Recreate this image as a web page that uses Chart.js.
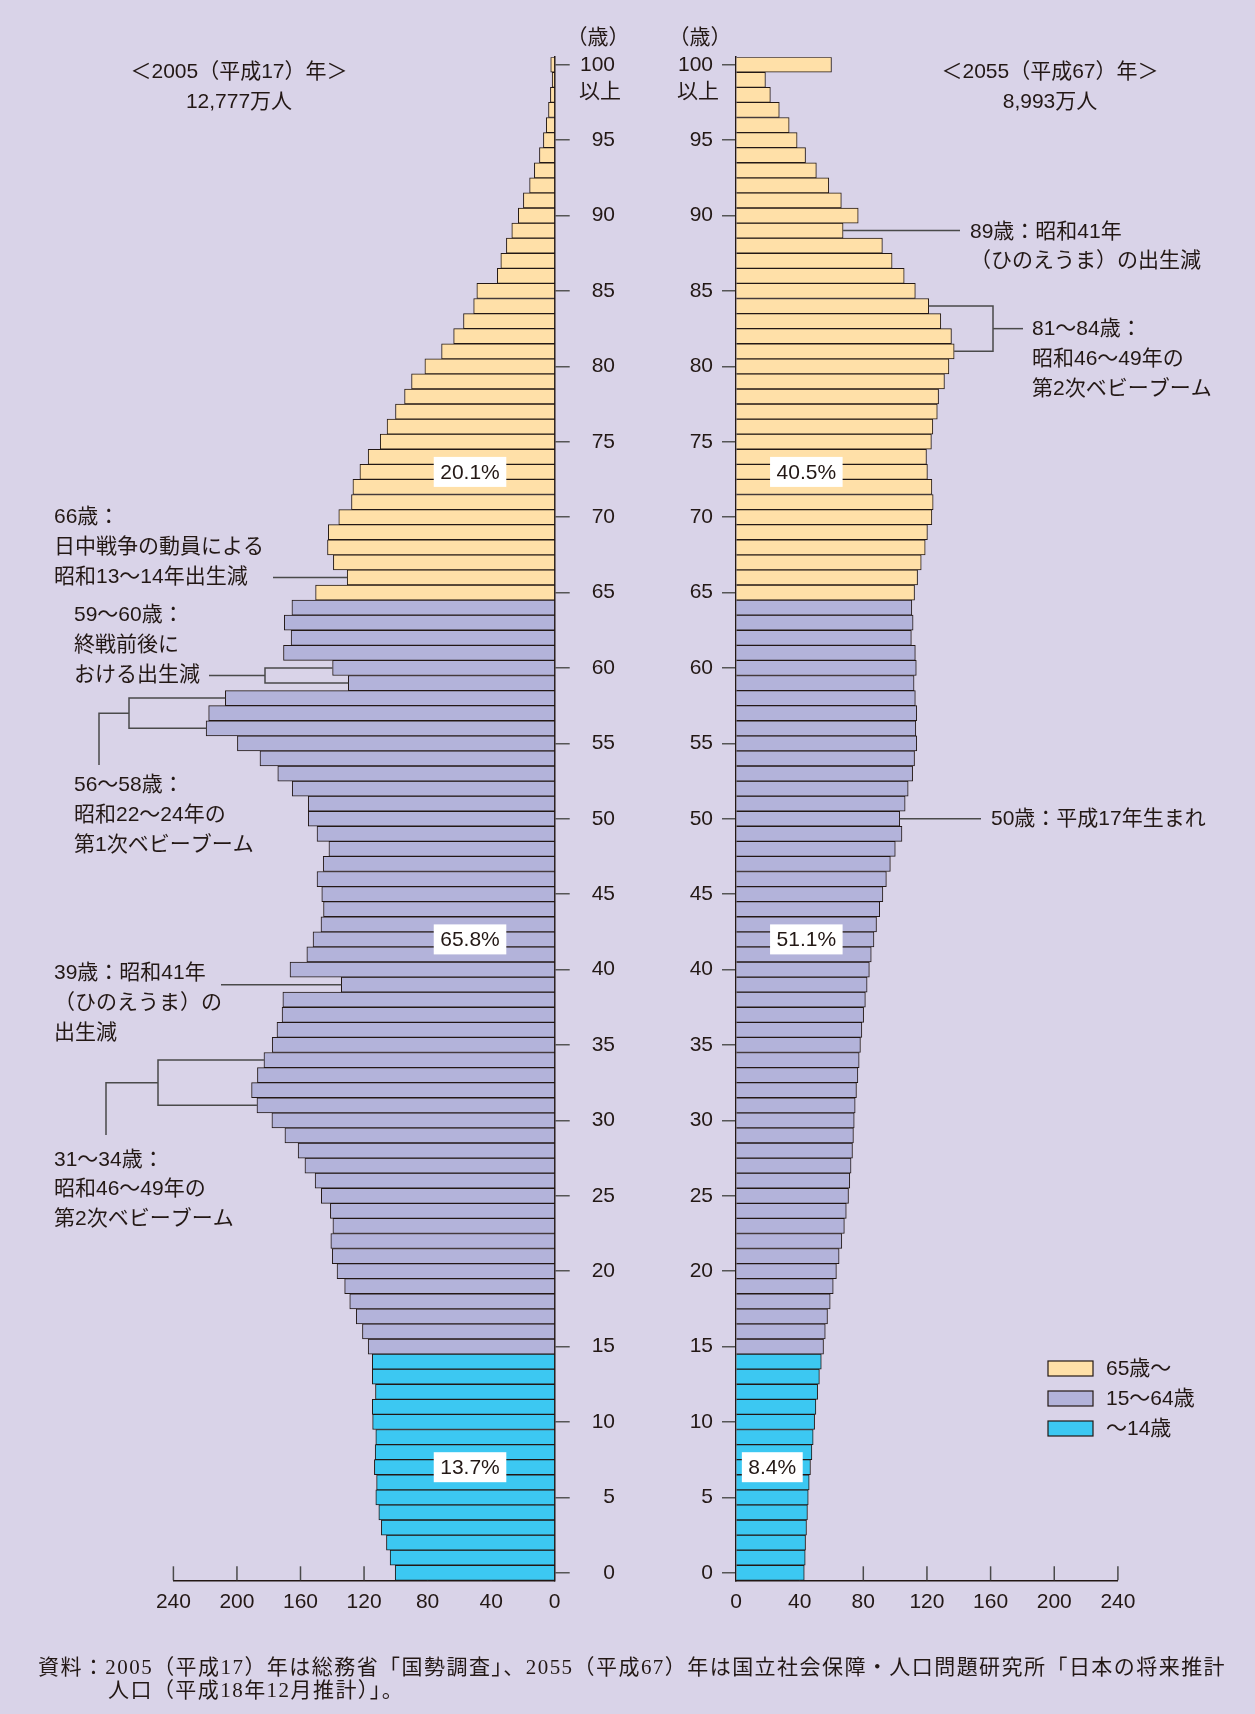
<!DOCTYPE html>
<html>
<head>
<meta charset="utf-8">
<script src="https://cdn.jsdelivr.net/npm/chart.js@4.4.1/dist/chart.umd.min.js"></script>
<style>
  html, body { margin: 0; padding: 0; background: #d9d3e8; }
  #wrap { position: relative; width: 1255px; height: 1714px; background: #d9d3e8; overflow: hidden; }
  #wrap canvas { position: absolute; left: 0; top: 0; }
  .note { position: absolute; white-space: nowrap; color: #231815;
          font: 21px "Liberation Serif", "Noto Sans CJK JP", serif; letter-spacing: 1.45px; }
</style>
</head>
<body>
<div id="wrap">
  <canvas id="left" width="1255" height="1714"></canvas>
  <canvas id="right" width="1255" height="1714"></canvas>
  <div class="note" style="left:38px; top:1650px;">資料：2005（平成17）年は総務省「国勢調査」、2055（平成67）年は国立社会保障・人口問題研究所「日本の将来推計</div>
  <div class="note" style="left:108px; top:1673px;">人口（平成18年12月推計）」。</div>
</div>
<script>
// 年齢 0〜100（100は100歳以上）
const ages = [];
for (let a = 0; a <= 100; a++) ages.push(String(a));

// 2005年（万人） 年齢昇順
const young2005 = [100.4, 103.6, 105.9, 109.1, 110.7, 112.6, 112.1, 113.5, 113.0, 112.6,
  114.6, 114.8, 112.8, 114.8, 114.8];
const working2005 = [117.4, 121.0, 124.9, 129.0, 132.2, 137.0, 140.0, 140.9, 139.6, 141.2,
  146.9, 150.8, 157.2, 161.5, 169.8, 178.0, 187.4, 190.8, 187.1, 183.0,
  177.8, 174.8, 171.6, 171.1, 134.3, 166.6, 156.0, 152.1, 147.1, 145.5,
  146.6, 149.6, 145.7, 142.1, 149.6, 155.1, 155.1, 165.2, 174.3, 185.5,
  199.7, 219.4, 217.8, 207.3, 129.9, 139.8, 170.7, 165.9, 170.2, 165.4];
const elderly2005 = [150.5, 130.6, 139.3, 143.0, 142.5, 135.9, 127.9, 127.0, 122.6, 117.4,
  109.8, 105.5, 100.2, 94.5, 90.1, 81.7, 71.2, 63.6, 57.4, 51.0,
  49.0, 36.1, 33.9, 30.4, 27.0, 22.9, 19.7, 15.8, 12.8, 9.6,
  7.1, 5.3, 3.9, 2.7, 1.6, 2.5];

// 2055年（万人） 年齢昇順
const young2055 = [42.9, 43.5, 43.7, 44.3, 44.9, 45.4, 46.0, 46.8, 47.7, 48.5,
  49.4, 50.2, 51.3, 52.4, 53.6];
const working2055 = [55.0, 56.1, 57.5, 59.2, 61.1, 63.1, 64.8, 66.5, 68.1, 69.3,
  70.7, 71.5, 72.3, 73.2, 73.8, 74.3, 74.9, 75.7, 76.6, 77.4,
  78.2, 79.1, 80.2, 81.3, 82.4, 83.8, 85.0, 86.7, 88.3, 90.3,
  92.3, 94.5, 97.0, 100.1, 104.3, 102.9, 106.3, 108.2, 111.0, 112.2,
  113.6, 113.0, 113.6, 112.7, 111.9, 113.3, 112.7, 110.2, 111.3, 110.5];
const elderly2055 = [112.2, 114.1, 116.4, 118.9, 120.3, 123.1, 123.9, 123.1, 120.3, 119.7,
  122.8, 123.7, 126.5, 127.3, 131.0, 133.8, 137.1, 135.4, 128.7, 121.1,
  112.7, 105.7, 98.1, 92.0, 67.3, 76.8, 66.2, 58.3, 50.5, 43.7,
  38.4, 33.4, 27.2, 21.6, 18.5, 60.0];

const groupNames = ['～14歳', '15～64歳', '65歳～'];
const legendNames = ['65歳～', '15～64歳', '～14歳'];
const shares2005 = ['13.7%', '65.8%', '20.1%'];
const shares2055 = ['8.4%', '51.1%', '40.5%'];
const xTicks = [0, 40, 80, 120, 160, 200, 240];

const colors = ['#3cc8f2', '#b3b3da', '#ffe0a8'];
const INK = '#231815';
const LINE = '#4a4a4a';
const FONT = '"Liberation Sans", "Noto Sans CJK JP", sans-serif';

function spread(young, working, elderly) {
  const y = ages.map((a, i) => i <= 14 ? young[i] : null);
  const w = ages.map((a, i) => i >= 15 && i <= 64 ? working[i - 15] : null);
  const e = ages.map((a, i) => i >= 65 ? elderly[i - 65] : null);
  return [y, w, e];
}
function valueAt(young, working, elderly, age) {
  if (age <= 14) return young[age];
  if (age <= 64) return working[age - 15];
  return elderly[age - 65];
}

function makeDatasets(young, working, elderly) {
  return spread(young, working, elderly).map((d, k) => ({
    label: groupNames[k],
    data: d,
    backgroundColor: colors[k],
    borderColor: INK,
    borderWidth: 1,
    borderSkipped: 'start',
    barPercentage: 1,
    categoryPercentage: 1
  }));
}

function text(ctx, s, x, y, align) {
  ctx.textAlign = align || 'left';
  ctx.textBaseline = 'middle';
  ctx.fillText(s, x, y);
}
function seg(ctx, pts) {
  ctx.beginPath();
  ctx.moveTo(pts[0][0], pts[0][1]);
  for (let i = 1; i < pts.length; i++) ctx.lineTo(pts[i][0], pts[i][1]);
  ctx.stroke();
}

// x軸の内向き目盛り（棒の下に描く）
const innerTicks = {
  id: 'innerTicks',
  beforeDatasetsDraw(chart) {
    const {ctx, scales: {x}, chartArea} = chart;
    ctx.save();
    ctx.strokeStyle = LINE;
    ctx.lineWidth = 1.5;
    x.ticks.forEach(t => {
      if (t.value === 0) return;
      const px = x.getPixelForValue(t.value);
      seg(ctx, [[px, chartArea.bottom], [px, chartArea.bottom - 14]]);
    });
    ctx.restore();
  }
};

function shareBox(ctx, s, cx, cy) {
  ctx.font = '21px ' + FONT;
  const w = ctx.measureText(s).width + 13;
  ctx.fillStyle = '#ffffff';
  ctx.fillRect(cx - w / 2, cy - 15, w, 30);
  ctx.fillStyle = INK;
  text(ctx, s, cx, cy + 1, 'center');
}

const leftDecor = {
  id: 'leftDecor',
  afterDraw(chart) {
    const {ctx, scales: {x, y}} = chart;
    const end = a => x.getPixelForValue(valueAt(young2005, working2005, elderly2005, a));
    const yy = a => y.getPixelForValue(a);
    ctx.save();
    ctx.fillStyle = INK;
    ctx.font = '21px ' + FONT;
    text(ctx, '＜2005（平成17）年＞', 239, 72, 'center');
    text(ctx, '12,777万人', 239, 102, 'center');
    text(ctx, '（歳）', 598, 38, 'center');
    text(ctx, '以上', 621, 92, 'right');

    // 構成比
    shareBox(ctx, shares2005[2], x.getPixelForValue(53.3), yy(73));
    shareBox(ctx, shares2005[1], x.getPixelForValue(53.3), yy(42));
    shareBox(ctx, shares2005[0], x.getPixelForValue(53.3), yy(7));

    // 注記
    ctx.fillStyle = INK;
    ctx.font = '21px ' + FONT;
    ctx.strokeStyle = LINE;
    ctx.lineWidth = 1.5;
    ['66歳：', '日中戦争の動員による', '昭和13～14年出生減'].forEach((s, i) => text(ctx, s, 54, 517 + i * 30));
    seg(ctx, [[273, yy(66)], [end(66), yy(66)]]);

    ['59～60歳：', '終戦前後に', 'おける出生減'].forEach((s, i) => text(ctx, s, 74, 615 + i * 30));
    const m60 = (yy(60) + yy(59)) / 2;
    seg(ctx, [[209, m60], [265, m60]]);
    seg(ctx, [[end(60), yy(60)], [265, yy(60)], [265, yy(59)], [end(59), yy(59)]]);

    ['56～58歳：', '昭和22～24年の', '第1次ベビーブーム'].forEach((s, i) => text(ctx, s, 74, 785 + i * 30));
    const m57 = (yy(58) + yy(56)) / 2;
    seg(ctx, [[end(58), yy(58)], [129, yy(58)], [129, yy(56)], [end(56), yy(56)]]);
    seg(ctx, [[129, m57], [99, m57], [99, 765]]);

    ['39歳：昭和41年', '（ひのえうま）の', '出生減'].forEach((s, i) => text(ctx, s, 54, 973 + i * 30));
    seg(ctx, [[221, yy(39)], [end(39), yy(39)]]);

    ['31～34歳：', '昭和46～49年の', '第2次ベビーブーム'].forEach((s, i) => text(ctx, s, 54, 1160 + i * 29.5));
    const m32 = (yy(34) + yy(31)) / 2;
    seg(ctx, [[end(34), yy(34)], [158, yy(34)], [158, yy(31)], [end(31), yy(31)]]);
    seg(ctx, [[158, m32], [106, m32], [106, 1135]]);
    ctx.restore();
  }
};

const rightDecor = {
  id: 'rightDecor',
  afterDraw(chart) {
    const {ctx, scales: {x, y}} = chart;
    const end = a => x.getPixelForValue(valueAt(young2055, working2055, elderly2055, a));
    const yy = a => y.getPixelForValue(a);
    ctx.save();
    ctx.fillStyle = INK;
    ctx.font = '21px ' + FONT;
    text(ctx, '＜2055（平成67）年＞', 1050, 72, 'center');
    text(ctx, '8,993万人', 1050, 102, 'center');
    text(ctx, '（歳）', 700, 38, 'center');
    text(ctx, '以上', 719, 92, 'right');

    shareBox(ctx, shares2055[2], x.getPixelForValue(44.2), yy(73));
    shareBox(ctx, shares2055[1], x.getPixelForValue(44.2), yy(42));
    shareBox(ctx, shares2055[0], x.getPixelForValue(22.8), yy(7));

    ctx.fillStyle = INK;
    ctx.font = '21px ' + FONT;
    ctx.strokeStyle = LINE;
    ctx.lineWidth = 1.5;
    ['89歳：昭和41年', '（ひのえうま）の出生減'].forEach((s, i) => text(ctx, s, 970, 232 + i * 29.5));
    seg(ctx, [[end(89), yy(89)], [960, yy(89)]]);

    ['81～84歳：', '昭和46～49年の', '第2次ベビーブーム'].forEach((s, i) => text(ctx, s, 1032, 329 + i * 30));
    const m82 = (yy(84) + yy(81)) / 2;
    seg(ctx, [[end(84), yy(84)], [993, yy(84)], [993, yy(81)], [end(81), yy(81)]]);
    seg(ctx, [[993, m82], [1023, m82]]);

    text(ctx, '50歳：平成17年生まれ', 991, 819);
    seg(ctx, [[end(50), yy(50)], [981, yy(50)]]);

    // 凡例
    const order = [2, 1, 0];
    order.forEach((k, i) => {
      const top = 1361 + i * 30;
      ctx.fillStyle = colors[k];
      ctx.fillRect(1048, top, 45, 15);
      ctx.strokeStyle = INK;
      ctx.lineWidth = 1.2;
      ctx.strokeRect(1048, top, 45, 15);
      ctx.fillStyle = INK;
      text(ctx, legendNames[i], 1106, top + 8);
    });
    ctx.restore();
  }
};

Chart.defaults.font.family = FONT;
Chart.defaults.color = INK;

function axisY(position, tickLength, padding, width, crossAlign) {
  return {
    type: 'category',
    position: position,
    reverse: true,
    stacked: true,
    afterFit: s => { s.width = width; },
    grid: {
      offset: false,
      drawOnChartArea: false,
      tickLength: tickLength,
      lineWidth: 1.5,
      color: c => (c.tick && c.tick.value % 5 === 0) ? '#555555' : 'rgba(0,0,0,0)'
    },
    border: { display: true, color: INK, width: 1.5 },
    ticks: {
      autoSkip: false,
      padding: padding,
      crossAlign: crossAlign,
      font: { size: 21 },
      color: INK,
      callback: v => (v % 5 === 0 ? String(v) : '')
    }
  };
}
function axisX(reverse) {
  return {
    type: 'linear',
    position: 'bottom',
    reverse: reverse,
    stacked: true,
    min: 0,
    max: 240,
    afterFit: s => { s.height = 133.7; },
    afterBuildTicks: s => { s.ticks = xTicks.map(v => ({ value: v })); },
    grid: { drawOnChartArea: false, drawTicks: false },
    border: { display: true, color: INK, width: 1.5 },
    ticks: { padding: 9, font: { size: 21 }, color: INK }
  };
}

new Chart(document.getElementById('left'), {
  type: 'bar',
  data: { labels: ages, datasets: makeDatasets(young2005, working2005, elderly2005) },
  options: {
    indexAxis: 'y',
    responsive: false,
    animation: false,
    layout: { padding: { left: 173.4, right: 640, top: 57.2, bottom: 0 } },
    plugins: { legend: { display: false }, tooltip: { enabled: false } },
    scales: {
      x: axisX(true),
      y: axisY('right', 15, 0, 60.3, 'far')
    }
  },
  plugins: [innerTicks, leftDecor]
});

new Chart(document.getElementById('right'), {
  type: 'bar',
  data: { labels: ages, datasets: makeDatasets(young2055, working2055, elderly2055) },
  options: {
    indexAxis: 'y',
    responsive: false,
    animation: false,
    layout: { padding: { left: 640, right: 137.1, top: 57.2, bottom: 0 } },
    plugins: { legend: { display: false }, tooltip: { enabled: false } },
    scales: {
      x: axisX(false),
      y: axisY('left', 14, 9, 96, 'near')
    }
  },
  plugins: [innerTicks, rightDecor]
});
</script>
</body>
</html>
